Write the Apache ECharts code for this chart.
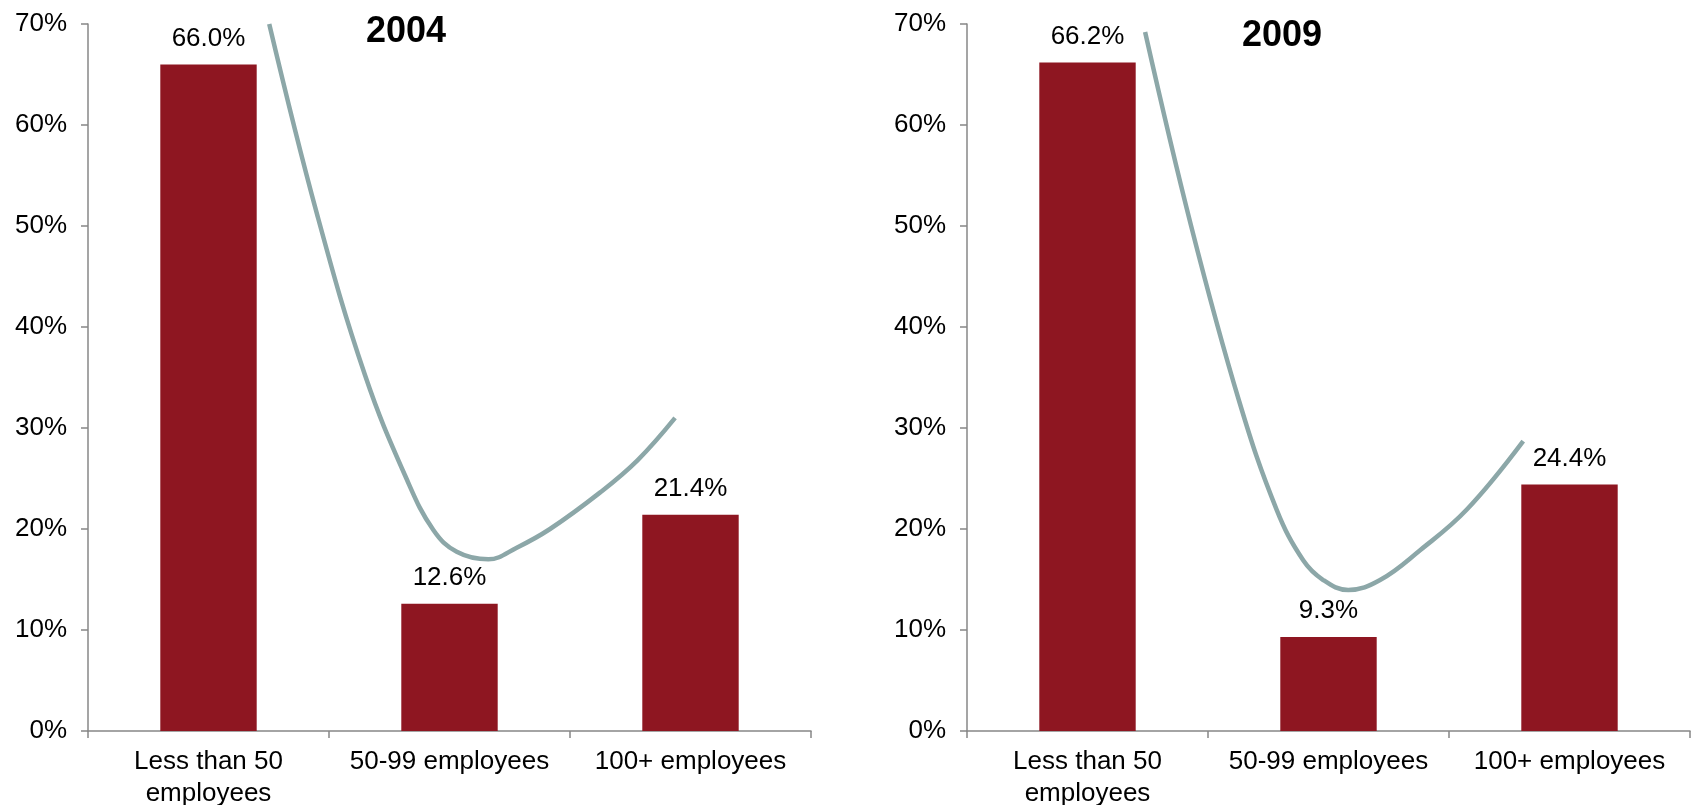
<!DOCTYPE html>
<html>
<head>
<meta charset="utf-8">
<script src="https://cdn.jsdelivr.net/npm/echarts@6/dist/echarts.min.js"></script>
<style>
html,body{margin:0;padding:0;background:#fff;}
#chart{width:1696px;height:805px;}
</style>
</head>
<body>
<div id="chart"></div>
<script>
const categories = ['Less than 50\nemployees', '50-99 employees', '100+ employees'];
const values2004 = [66.0, 12.6, 21.4];
const values2009 = [66.2, 9.3, 24.4];
const yTicks = [0, 10, 20, 30, 40, 50, 60, 70];
const titles = ['2004', '2009'];
// decorative curve: [category position, percent]
const curve2004 = [[0.252,70.0],[0.45,51.2],[0.65,35.2],[0.824,24.85],[0.933,19.9],[1.03,17.75],[1.161,17.0],[1.279,18.15],[1.417,20.0],[1.624,23.6],[1.78,26.8],[1.936,31.0]];
const curve2009 = [[0.239,69.2],[0.43,50.0],[0.63,32.6],[0.785,21.9],[0.895,16.9],[0.978,14.95],[1.082,13.96],[1.214,14.95],[1.38,17.9],[1.573,21.9],[1.808,28.7]];

const FONT = '"Liberation Sans", Arial, sans-serif';
const BAR = '#8E1621';
const CURVE = '#8CA7A8';
const AXIS = '#878787';

const chart = echarts.init(document.getElementById('chart'), null, {renderer: 'canvas'});
const grids = [
  {left: 88, top: 24, width: 723, height: 707, containLabel: false, outerBoundsMode: 'none'},
  {left: 967, top: 24, width: 723, height: 707, containLabel: false, outerBoundsMode: 'none'}
];
const xAxes = [], yAxes = [], series = [];
const allValues = [values2004, values2009];
const curves = [curve2004, curve2009];
for (let g = 0; g < 2; g++) {
  xAxes.push({
    type: 'category', gridIndex: g, data: categories, boundaryGap: true,
    axisLine: {show: true, onZero: false, lineStyle: {color: AXIS, width: 1.5}},
    axisTick: {show: true, length: 7, alignWithLabel: false, lineStyle: {color: AXIS, width: 1.5}},
    axisLabel: {color: '#000', fontFamily: FONT, fontSize: 26, lineHeight: 32, margin: 15, interval: 0}
  });
  xAxes.push({
    type: 'value', gridIndex: g, min: -0.5, max: 2.5, show: false,
    axisLine: {show: false, onZero: false}, splitLine: {show: false}
  });
  yAxes.push({
    type: 'value', gridIndex: g, min: yTicks[0], max: yTicks[yTicks.length - 1], interval: 10,
    splitLine: {show: false},
    axisLine: {show: true, onZero: false, lineStyle: {color: AXIS, width: 1.5}},
    axisTick: {show: true, length: 7, inside: false, lineStyle: {color: AXIS, width: 1.5}},
    axisLabel: {color: '#000', fontFamily: FONT, fontSize: 26, margin: 21, formatter: '{value}%'}
  });
  series.push({
    type: 'bar', xAxisIndex: g * 2, yAxisIndex: g, data: allValues[g], barWidth: '40%',
    itemStyle: {color: BAR},
    label: {show: true, position: 'top', distance: 13, color: '#000', fontFamily: FONT, fontSize: 26,
      formatter: p => p.value.toFixed(1) + '%'},
    silent: true
  });
  series.push({
    type: 'line', xAxisIndex: g * 2 + 1, yAxisIndex: g, data: curves[g], smooth: 0.4,
    symbol: 'none', lineStyle: {color: CURVE, width: 4.5}, silent: true, z: 3
  });
}
chart.setOption({
  animation: false,
  backgroundColor: '#fff',
  title: [
    {text: titles[0], left: 361, top: 9, textStyle: {fontFamily: FONT, fontSize: 36, fontWeight: 'bold', color: '#000', lineHeight: 36}},
    {text: titles[1], left: 1237, top: 13, textStyle: {fontFamily: FONT, fontSize: 36, fontWeight: 'bold', color: '#000', lineHeight: 36}}
  ],
  grid: grids,
  xAxis: xAxes,
  yAxis: yAxes,
  series: series
});
</script>
</body>
</html>
